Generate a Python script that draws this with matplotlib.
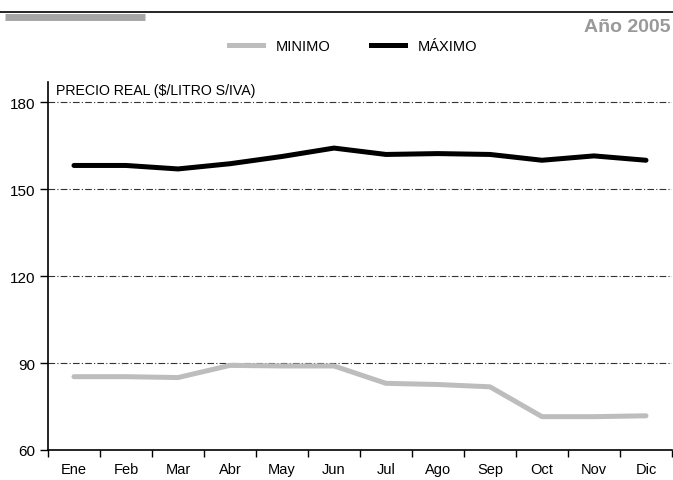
import matplotlib
matplotlib.use("Agg")
import matplotlib.pyplot as plt
from matplotlib.lines import Line2D
import numpy as np

months = ["Ene", "Feb", "Mar", "Abr", "May", "Jun", "Jul", "Ago", "Sep", "Oct", "Nov", "Dic"]
minimo = [85.3, 85.3, 85.0, 89.2, 89.0, 89.0, 83.0, 82.6, 81.8, 71.5, 71.5, 71.8]
maximo = [158.2, 158.2, 157.0, 158.8, 161.3, 164.2, 162.0, 162.3, 162.0, 160.0, 161.5, 160.0]
yticks = [60, 90, 120, 150, 180]

plt.rcParams['font.family'] = ['Liberation Sans', 'DejaVu Sans']

fig = plt.figure(figsize=(6.73, 4.81), dpi=100)
ax = fig.add_axes([0.0713, 0.0624, 0.9272, 0.765])

x = np.arange(len(months)) + 0.5
gray = "#bdbdbd"
ax.plot(x, minimo, color=gray, lw=3.6, solid_capstyle="round", zorder=3)
ax.plot(x, maximo, color="black", lw=3.6, solid_capstyle="round", zorder=3)

ax.set_xlim(0, 12)
ax.set_ylim(60, 187)
ax.set_yticks(yticks)
ax.set_yticklabels([str(v) for v in yticks], fontsize=11)
ax.set_xticks(np.arange(0, 13))
ax.set_xticklabels([])
ax.set_xticks(x, minor=True)
ax.set_xticklabels(months, minor=True, fontsize=10.5)
ax.tick_params(axis="x", which="minor", length=0, pad=9)
ax.tick_params(axis="x", which="major", length=5, direction="out", width=1)
ax.tick_params(axis="y", length=6, width=1, pad=3)
for v in yticks[1:]:
    ax.axhline(v, color="#333333", lw=0.8, ls=(0, (6, 2, 1, 2)), zorder=1)

for s in ["top", "right"]:
    ax.spines[s].set_visible(False)
ax.spines["left"].set_linewidth(1.2)
ax.spines["bottom"].set_linewidth(1.2)

ax.text(0.15, 186.5, "PRECIO REAL ($/LITRO S/IVA)", fontsize=10.2, va="top", ha="left")

# header decoration
fig.add_artist(Line2D([0, 1], [1 - 13 / 481, 1 - 13 / 481], color="black", lw=1.2, transform=fig.transFigure))
fig.add_artist(Line2D([5 / 673, 145 / 673], [1 - 18 / 481, 1 - 18 / 481], color="#a6a6a6", lw=5, transform=fig.transFigure, solid_capstyle="butt"))
fig.text(0.997, 1 - 27 / 481, "Año 2005", ha="right", va="center", fontsize=14, fontweight="bold", color="#999999")

handles = [Line2D([], [], color=gray, lw=3.6), Line2D([], [], color="black", lw=3.6)]
fig.legend(handles, ["MINIMO", "MÁXIMO"], loc="center", bbox_to_anchor=(0.525, 1 - 47 / 481), ncol=2,
           frameon=False, fontsize=10.5, handlelength=2.3, columnspacing=2.8, handletextpad=0.9)

fig.savefig("out.png", dpi=100)
